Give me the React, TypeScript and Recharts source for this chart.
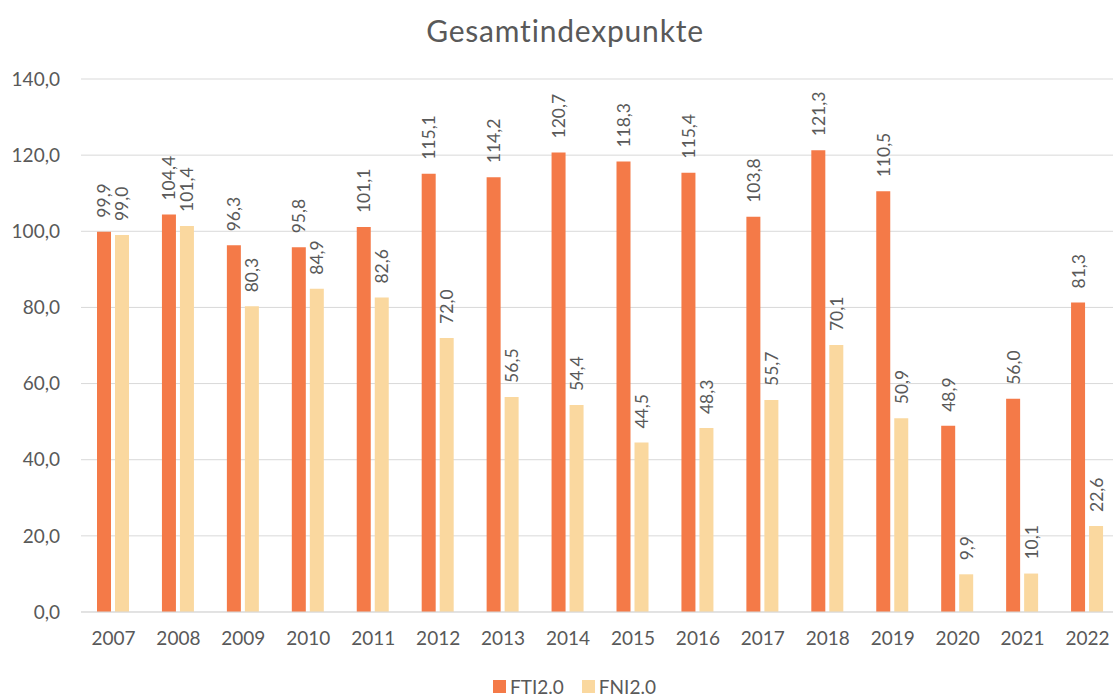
import { BarChart, Bar, XAxis, YAxis, CartesianGrid, LabelList } from "recharts";

const years = ["2007", "2008", "2009", "2010", "2011", "2012", "2013", "2014", "2015", "2016", "2017", "2018", "2019", "2020", "2021", "2022"];
const fti = [99.9, 104.4, 96.3, 95.8, 101.1, 115.1, 114.2, 120.7, 118.3, 115.4, 103.8, 121.3, 110.5, 48.9, 56.0, 81.3];
const fni = [99.0, 101.4, 80.3, 84.9, 82.6, 72.0, 56.5, 54.4, 44.5, 48.3, 55.7, 70.1, 50.9, 9.9, 10.1, 22.6];
const yTicks = [0, 20, 40, 60, 80, 100, 120, 140];

const ORANGE = "#F47A48";
const YELLOW = "#FAD89F";
const TEXT = "#595959";
const FONT = "Lato, 'Open Sans', sans-serif";

const data = years.map((year, i) => ({ year, FTI: fti[i], FNI: fni[i] }));

const fmt = (v: number) => v.toFixed(1).replace(".", ",");

// rotated value label sitting above the bar
const VerticalLabel = (props: any) => {
  const { x, y, width, value } = props;
  const cx = x + width / 2;
  const cy = y - 14;
  return (
    <text
      x={cx}
      y={cy}
      transform={`rotate(-90, ${cx}, ${cy})`}
      textAnchor="start"
      dominantBaseline="central"
      fill={TEXT}
      fontSize={17.5}
      fontFamily={FONT}
    >
      {fmt(value)}
    </text>
  );
};

export default function App() {
  return (
    <div style={{ position: "absolute", left: 0, top: 0, width: 1113, height: 698, overflow: "hidden", background: "#fff", fontFamily: FONT }}>
      <div style={{ position: "absolute", top: 12, width: 1130, textAlign: "center", fontSize: 30, letterSpacing: 0.8, color: TEXT }}>
        Gesamtindexpunkte
      </div>
      <BarChart
        width={1125}
        height={698}
        data={data}
        margin={{ top: 79, right: 5, bottom: 56, left: 0 }}
        barGap={4}
        barSize={14}
      >
        <CartesianGrid vertical={false} stroke="#d9d9d9" />
        <XAxis
          dataKey="year"
          tickLine={false}
          tickSize={0}
          tickMargin={20}
          axisLine={{ stroke: "#d9d9d9" }}
          tick={{ fill: TEXT, fontSize: 19, fontFamily: FONT }}
        />
        <YAxis
          width={81}
          domain={[0, 140]}
          ticks={yTicks}
          axisLine={false}
          tickLine={false}
          tickSize={0}
          tickMargin={21}
          tickFormatter={fmt}
          tick={{ fill: TEXT, fontSize: 19, fontFamily: FONT }}
        />
        <Bar dataKey="FTI" fill={ORANGE} isAnimationActive={false}>
          <LabelList dataKey="FTI" content={VerticalLabel} />
        </Bar>
        <Bar dataKey="FNI" fill={YELLOW} isAnimationActive={false}>
          <LabelList dataKey="FNI" content={VerticalLabel} />
        </Bar>
      </BarChart>
      <div style={{ position: "absolute", top: 675, left: 0, width: 1149, display: "flex", justifyContent: "center", gap: 18, fontSize: 19, color: TEXT }}>
        <span style={{ display: "flex", alignItems: "center" }}>
          <span style={{ width: 13, height: 13, background: ORANGE, marginRight: 4 }} />FTI2.0
        </span>
        <span style={{ display: "flex", alignItems: "center" }}>
          <span style={{ width: 13, height: 13, background: YELLOW, marginRight: 4 }} />FNI2.0
        </span>
      </div>
    </div>
  );
}
